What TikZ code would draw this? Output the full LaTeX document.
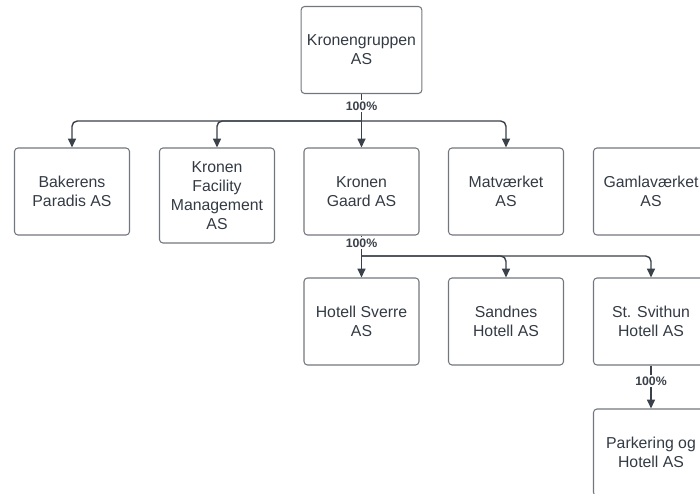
\documentclass[tikz,border=0pt]{standalone}
\usepackage{fontspec}
\setmainfont{Liberation Sans}
\usepackage{xcolor}
\usetikzlibrary{arrows.meta,positioning}
\definecolor{mline}{HTML}{3A414A}
\definecolor{mbox}{HTML}{72767D}
\definecolor{mtext}{HTML}{333A44}
\tikzstyle{firm}=[rectangle, rounded corners=2pt, draw=mbox, line width=0.6pt, minimum width=2.3cm, minimum height=1.74cm, align=center, text=mtext, font=\fontsize{9}{10.8}\selectfont]
\tikzstyle{l1}=[line width=0.8pt, color=mline, -{Triangle[length=5pt,width=4.5pt]}]
\tikzstyle{pct}=[fill=white, inner sep=1pt, text=mline, font=\fontsize{7}{8}\selectfont\bfseries]

\begin{document}
\begin{tikzpicture}
    \useasboundingbox (0,0) rectangle (14,-9.88);
    \node (kg) [firm] at (7.23,-1.0) {Kronengruppen\\AS};

    \node (bp) [firm] at (1.44,-3.83) {Bakerens\\Paradis AS};
    \node (kfm) [firm, minimum height=1.9cm] at (4.34,-3.91) {Kronen\\Facility\\Management\\AS};
    \node (kga) [firm] at (7.23,-3.83) {Kronen\\Gaard AS};
    \node (mv) [firm] at (10.12,-3.83) {Matværket\\AS};
    \node (gv) [firm] at (13.02,-3.83) {Gamlaværket\\AS};

    \node (hs) [firm] at (7.23,-6.43) {Hotell Sverre\\AS};
    \node (sh) [firm] at (10.12,-6.43) {Sandnes\\Hotell AS};
    \node (ssh) [firm] at (13.02,-6.43) {St. Svithun\\Hotell AS};

    \node (ph) [firm] at (13.02,-9.05) {Parkering og\\Hotell AS};

    \coordinate (b1) at (7.23,-2.42);
    \coordinate (b2) at (7.23,-5.12);
    \draw[l1] (kg) -- (kga);
    \draw[l1, rounded corners=3pt] (b1) -| (bp);
    \draw[l1, rounded corners=3pt] (b1) -| (kfm);
    \draw[l1, rounded corners=3pt] (b1) -| (mv);
    \draw[l1] (kga) -- (hs);
    \draw[l1, rounded corners=3pt] (b2) -| (sh);
    \draw[l1, rounded corners=3pt] (b2) -| (ssh);
    \draw[l1] (ssh) -- (ph);

    \node[pct] (p1) at (7.23,-2.12) {100\%};
    \node[pct] (p2) at (7.23,-4.86) {100\%};
    \node[pct] (p3) at (13.02,-7.62) {100\%};
\end{tikzpicture}
\end{document}
